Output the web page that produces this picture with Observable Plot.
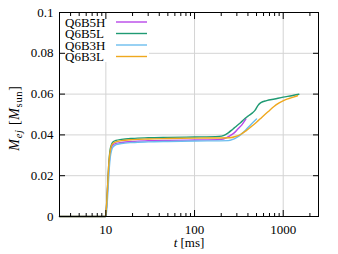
<!DOCTYPE html>
<html><head><meta charset="utf-8">
<script src="https://cdn.jsdelivr.net/npm/d3@7"></script>
<script src="https://cdn.jsdelivr.net/npm/@observablehq/plot@0.6"></script>
<style>body{margin:0;background:#fff}</style>
</head><body><div id="chart"></div>
<script>
const seriesNames = ["Q6B5H", "Q6B5L", "Q6B3H", "Q6B3L"];
const seriesColors = ["#b847e8", "#1f9a73", "#6cbdee", "#efa81e"];

// [t (ms), M_ej (M_sun)]
const q6b5h = [[3,0],[9.9,0],[10.2,0.005],[10.5,0.015],[10.8,0.024],[11.1,0.030],[11.5,0.0335],[12,0.035],[13,0.0358],[15,0.0363],[20,0.0368],[30,0.0371],[50,0.0373],[100,0.0375],[200,0.0378],[225,0.0384],[250,0.0395],[280,0.041],[310,0.043],[340,0.0448],[380,0.0478]];
const q6b5l = [[3,0],[9.9,0],[10.2,0.006],[10.5,0.016],[10.8,0.026],[11.1,0.032],[11.5,0.035],[12,0.0365],[13,0.0373],[15,0.0378],[20,0.0383],[30,0.0386],[50,0.0388],[100,0.039],[190,0.0393],[215,0.0398],[240,0.041],[270,0.0428],[300,0.0445],[330,0.046],[370,0.048],[410,0.0495],[450,0.0508],[480,0.052],[520,0.0545],[560,0.0558],[650,0.0568],[800,0.0576],[1000,0.0585],[1250,0.0592],[1500,0.0599]];
const q6b3h = [[3,0],[10,0],[10.3,0.005],[10.6,0.014],[10.9,0.023],[11.2,0.029],[11.6,0.0325],[12,0.034],[13,0.0352],[15,0.0358],[20,0.0363],[30,0.0366],[50,0.0368],[100,0.037],[240,0.0372],[270,0.0378],[300,0.0388],[340,0.0405],[380,0.0425],[430,0.045],[500,0.0478]];
const q6b3l = [[3,0],[9.9,0],[10.2,0.006],[10.5,0.016],[10.8,0.026],[11.1,0.031],[11.5,0.0345],[12,0.0358],[13,0.0366],[15,0.0372],[20,0.0377],[30,0.038],[50,0.0382],[100,0.0384],[250,0.0386],[290,0.0392],[330,0.0402],[380,0.042],[440,0.0442],[500,0.0462],[580,0.0488],[680,0.0515],[780,0.0538],[900,0.0557],[1050,0.0572],[1250,0.0583],[1450,0.0592]];

const xMajorTicks = [10, 100, 1000];
const xMinorTicks = [3,4,5,6,7,8,9,20,30,40,50,60,70,80,90,200,300,400,500,600,700,800,900,2000];
const yTicks = [0, 0.02, 0.04, 0.06, 0.08, 0.1];
const yGridTicks = [0.02, 0.04, 0.06, 0.08];

const seriesData = [q6b5h, q6b5l, q6b3h, q6b3l];
const rows = seriesData.flatMap((s, i) => s.map(([t, m]) => ({series: seriesNames[i], t, m})));
const fmtY = d => d === 0 ? "0" : String(+d.toFixed(2));
const FONT = "Liberation Serif, serif";

const plot = Plot.plot({
  width: 338, height: 254,
  marginLeft: 59, marginRight: 20, marginTop: 12, marginBottom: 38,
  style: "background:#fff;color:#000;font-family:'Liberation Serif',serif;font-size:13px;",
  x: {type: "log", domain: [3, 2500], axis: null},
  y: {domain: [0, 0.1], axis: null},
  color: {domain: seriesNames, range: seriesColors},
  marks: [
    Plot.gridX(xMajorTicks, {stroke: "#d4d4d4", strokeOpacity: 1}),
    Plot.gridY(yGridTicks, {stroke: "#d4d4d4", strokeOpacity: 1}),
    Plot.line(rows, {x: "t", y: "m", z: "series", stroke: "series", strokeWidth: 1.4, curve: "monotone-x"}),
    Plot.frame({stroke: "#000", strokeWidth: 1}),
    // inward ticks
    Plot.axisX({ticks: xMajorTicks, anchor: "bottom", tickSize: 6, dy: -6, fill: "none", stroke: "#000", label: null}),
    Plot.axisX({ticks: xMinorTicks, anchor: "bottom", tickSize: 3, dy: -3, fill: "none", stroke: "#000", label: null}),
    Plot.axisX({ticks: xMajorTicks, anchor: "top", tickSize: 6, dy: 6, fill: "none", stroke: "#000", label: null}),
    Plot.axisX({ticks: xMinorTicks, anchor: "top", tickSize: 3, dy: 3, fill: "none", stroke: "#000", label: null}),
    Plot.axisY({ticks: yTicks, anchor: "left", tickSize: 6, dx: 6, fill: "none", stroke: "#000", label: null}),
    Plot.axisY({ticks: yTicks, anchor: "right", tickSize: 6, dx: -6, fill: "none", stroke: "#000", label: null}),
    // tick labels
    Plot.axisX({ticks: xMajorTicks, anchor: "bottom", tickSize: 0, tickPadding: 8, stroke: "none", fill: "#000", label: null, tickFormat: d => String(d)}),
    Plot.axisY({ticks: yTicks, anchor: "left", tickSize: 0, tickPadding: 6, stroke: "none", fill: "#000", label: null, tickFormat: fmtY})
  ]
});

const svg = d3.select(plot);
// legend background
const lineG = svg.select("g[aria-label='line']").node();
svg.insert("rect", () => lineG).attr("x", 60).attr("y", 13).attr("width", 89).attr("height", 49).attr("fill", "#fff");

const leg = svg.append("g").attr("text-anchor", "start");
seriesNames.forEach((name, i) => {
  const cy = 22 + i * 11.5;
  leg.append("text").attr("x", 65).attr("y", cy + 4.5).attr("text-anchor", "start").attr("fill", "#000").text(name);
  leg.append("line").attr("x1", 116).attr("x2", 147).attr("y1", cy).attr("y2", cy)
    .attr("stroke", seriesColors[i]).attr("stroke-width", 1.4);
});

// axis labels
const yl = svg.append("text").attr("transform", "translate(19,118) rotate(-90)").attr("text-anchor", "middle")
  .attr("fill", "#000").attr("font-size", "14px").attr("letter-spacing", "0.7px");
yl.append("tspan").attr("font-style", "italic").text("M");
yl.append("tspan").attr("font-style", "italic").attr("font-size", "10.5px").attr("dy", 3).text("ej");
yl.append("tspan").attr("dy", -3).text(" [");
yl.append("tspan").attr("font-style", "italic").text("M");
yl.append("tspan").attr("font-size", "10.5px").attr("dy", 3).text("sun");
yl.append("tspan").attr("dy", -3).text("]");

const xl = svg.append("text").attr("x", 189).attr("y", 247).attr("text-anchor", "middle").attr("fill", "#000");
xl.append("tspan").attr("font-style", "italic").text("t");
xl.append("tspan").text(" [ms]");

svg.selectAll("text").attr("font-family", FONT).each(function() {
  if (!this.getAttribute("font-size")) this.setAttribute("font-size", "13px");
});
svg.selectAll("g").attr("font-variant", "normal");

document.getElementById("chart").append(plot);
</script>
</body></html>
